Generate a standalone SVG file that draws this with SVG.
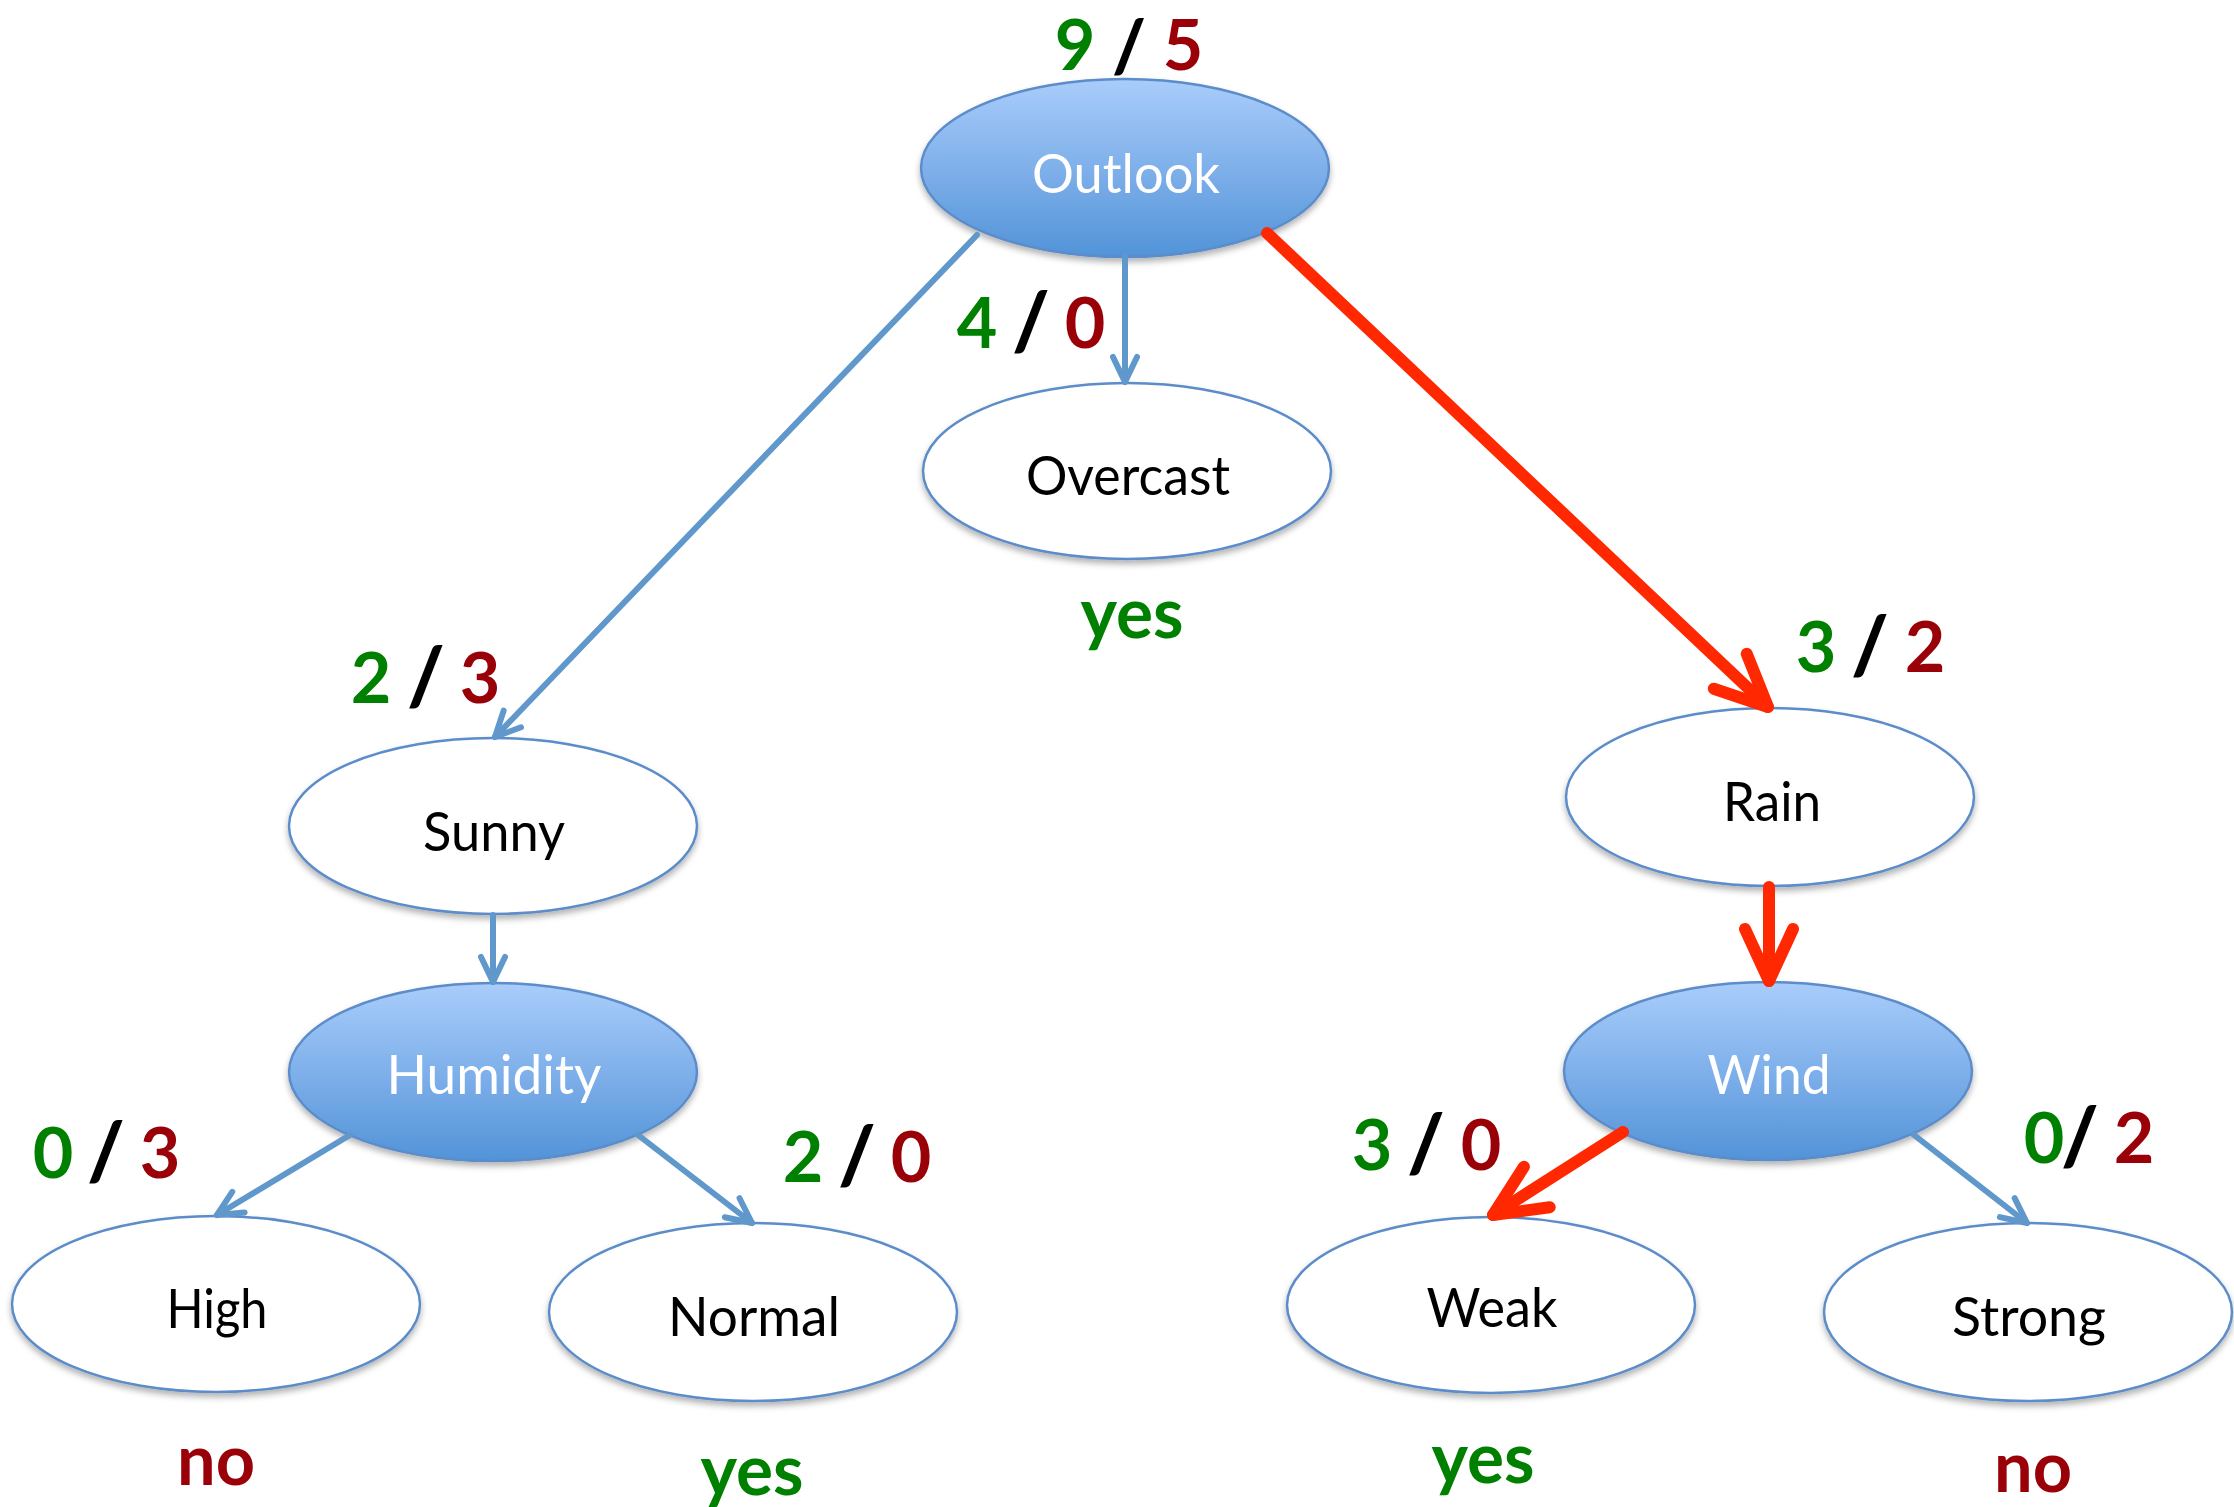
<svg xmlns="http://www.w3.org/2000/svg" width="2234" height="1507" viewBox="0 0 2234 1507">
  <defs>
    <linearGradient id="blueFill" x1="0" y1="0" x2="0" y2="1">
      <stop offset="0" stop-color="#A9CDFB"/>
      <stop offset="0.5" stop-color="#7FB0EA"/>
      <stop offset="1" stop-color="#5293D8"/>
    </linearGradient>
    <filter id="shadow" x="-10%" y="-10%" width="120%" height="130%">
      <feDropShadow dx="0" dy="4" stdDeviation="3" flood-color="#000" flood-opacity="0.3"/>
    </filter>
    <marker id="headBlue" markerUnits="userSpaceOnUse" orient="auto" refX="0" refY="0" markerWidth="80" markerHeight="80" viewBox="-40 -40 80 80" overflow="visible">
      <path d="M-25,-12 L0,0 L-25,12" fill="none" stroke="#6098CC" stroke-width="6" stroke-linecap="round" stroke-linejoin="round"/>
    </marker>
    <marker id="headRed" markerUnits="userSpaceOnUse" orient="auto" refX="0" refY="0" markerWidth="140" markerHeight="140" viewBox="-70 -70 140 140" overflow="visible">
      <path d="M-52,-24 L0,0 L-52,24" fill="none" stroke="#FF2800" stroke-width="12" stroke-linecap="round" stroke-linejoin="round"/>
    </marker>
  </defs>
  <style>
    .leaf { fill: #FFFFFF; stroke: #5B8CC9; stroke-width: 2.5; filter: url(#shadow); }
    .split { fill: url(#blueFill); stroke: #5B8CC9; stroke-width: 2.5; filter: url(#shadow); }
    .lbl { font-family: Lato, "Open Sans", sans-serif; font-size: 54px; text-anchor: middle; }
    .dark { fill: #000000; }
    .light { fill: #FFFFFF; }
    .cnt { font-family: Lato, "Open Sans", sans-serif; font-weight: bold; font-size: 70px; text-anchor: middle; }
    .pos { fill: #008000; }
    .neg { fill: #990008; }
    .sep { fill: #000000; font-size: 80px; font-weight: 900; }
    .edge { fill: none; stroke: #6098CC; stroke-width: 6; stroke-linecap: round; marker-end: url(#headBlue); }
    .path { fill: none; stroke: #FF2800; stroke-width: 12; stroke-linecap: round; marker-end: url(#headRed); }
  </style>

  <rect x="0" y="0" width="2234" height="1507" fill="#FFFFFF"/>

  <!-- tree nodes -->
  <g id="outlook">
    <ellipse class="split" cx="1125" cy="168" rx="204" ry="89"/>
    <text class="lbl light" x="1126" y="193" textLength="188" lengthAdjust="spacingAndGlyphs">Outlook</text>
    <text class="cnt pos" x="1075" y="70">9</text>
    <text class="cnt sep" x="1129" y="72" style="font-size:72px">/</text>
    <text class="cnt neg" x="1183" y="70">5</text>
  </g>

  <g id="overcast">
    <ellipse class="leaf" cx="1127" cy="471" rx="204" ry="88"/>
    <text class="lbl dark" x="1128" y="495" textLength="204" lengthAdjust="spacingAndGlyphs">Overcast</text>
    <text class="cnt pos" x="977" y="348">4</text>
    <text class="cnt sep" x="1031" y="350">/</text>
    <text class="cnt neg" x="1085" y="348">0</text>
    <text class="cnt pos" x="1132" y="638" textLength="103" lengthAdjust="spacingAndGlyphs">yes</text>
  </g>

  <g id="sunny">
    <ellipse class="leaf" cx="493" cy="826" rx="204" ry="88"/>
    <text class="lbl dark" x="494" y="851" textLength="142" lengthAdjust="spacingAndGlyphs">Sunny</text>
    <text class="cnt pos" x="371" y="703">2</text>
    <text class="cnt sep" x="426" y="705">/</text>
    <text class="cnt neg" x="480" y="703">3</text>
  </g>

  <g id="humidity">
    <ellipse class="split" cx="493" cy="1072" rx="204" ry="89"/>
    <text class="lbl light" x="494" y="1094" textLength="215" lengthAdjust="spacingAndGlyphs">Humidity</text>
  </g>

  <g id="high">
    <ellipse class="leaf" cx="216" cy="1304" rx="204" ry="88"/>
    <text class="lbl dark" x="217" y="1328" textLength="101" lengthAdjust="spacingAndGlyphs">High</text>
    <text class="cnt pos" x="53" y="1178">0</text>
    <text class="cnt sep" x="106" y="1180">/</text>
    <text class="cnt neg" x="160" y="1178">3</text>
    <text class="cnt neg" x="216" y="1485" textLength="78" lengthAdjust="spacingAndGlyphs">no</text>
  </g>

  <g id="normal">
    <ellipse class="leaf" cx="753" cy="1312" rx="204" ry="89"/>
    <text class="lbl dark" x="754" y="1336" textLength="172" lengthAdjust="spacingAndGlyphs">Normal</text>
    <text class="cnt pos" x="803" y="1182">2</text>
    <text class="cnt sep" x="857" y="1184">/</text>
    <text class="cnt neg" x="911" y="1182">0</text>
    <text class="cnt pos" x="752" y="1495" textLength="103" lengthAdjust="spacingAndGlyphs">yes</text>
  </g>

  <g id="rain">
    <ellipse class="leaf" cx="1770" cy="797" rx="204" ry="89"/>
    <text class="lbl dark" x="1772" y="821" textLength="98" lengthAdjust="spacingAndGlyphs">Rain</text>
    <text class="cnt pos" x="1816" y="672">3</text>
    <text class="cnt sep" x="1870" y="674">/</text>
    <text class="cnt neg" x="1925" y="672">2</text>
  </g>

  <g id="wind">
    <ellipse class="split" cx="1768" cy="1071" rx="204" ry="89"/>
    <text class="lbl light" x="1769" y="1094" textLength="123" lengthAdjust="spacingAndGlyphs">Wind</text>
  </g>

  <g id="weak">
    <ellipse class="leaf" cx="1491" cy="1305" rx="204" ry="88"/>
    <text class="lbl dark" x="1492" y="1327" textLength="131" lengthAdjust="spacingAndGlyphs">Weak</text>
    <text class="cnt pos" x="1372" y="1170">3</text>
    <text class="cnt sep" x="1426" y="1172">/</text>
    <text class="cnt neg" x="1481" y="1170">0</text>
    <text class="cnt pos" x="1483" y="1483" textLength="103" lengthAdjust="spacingAndGlyphs">yes</text>
  </g>

  <g id="strong">
    <ellipse class="leaf" cx="2028" cy="1312" rx="204" ry="89"/>
    <text class="lbl dark" x="2029" y="1336" textLength="154" lengthAdjust="spacingAndGlyphs">Strong</text>
    <text class="cnt pos" x="2044" y="1163">0</text>
    <text class="cnt sep" x="2080" y="1165">/</text>
    <text class="cnt neg" x="2134" y="1163">2</text>
    <text class="cnt neg" x="2033" y="1492" textLength="78" lengthAdjust="spacingAndGlyphs">no</text>
  </g>

  <!-- branches: blue for ordinary splits, red for the highlighted route -->
  <g id="connectors">
    <line class="edge" x1="977" y1="235" x2="495" y2="737"/>
    <line class="edge" x1="1125" y1="257" x2="1125" y2="382"/>
    <line class="path" x1="1267" y1="233" x2="1768" y2="707"/>
    <line class="edge" x1="493" y1="915" x2="493" y2="982"/>
    <line class="path" x1="1769" y1="887" x2="1769" y2="981"/>
    <line class="edge" x1="350" y1="1135" x2="217" y2="1215"/>
    <line class="edge" x1="638" y1="1135" x2="752" y2="1223"/>
    <line class="path" x1="1623" y1="1132" x2="1493" y2="1215"/>
    <line class="edge" x1="1914" y1="1135" x2="2027" y2="1223"/>
  </g>
</svg>
